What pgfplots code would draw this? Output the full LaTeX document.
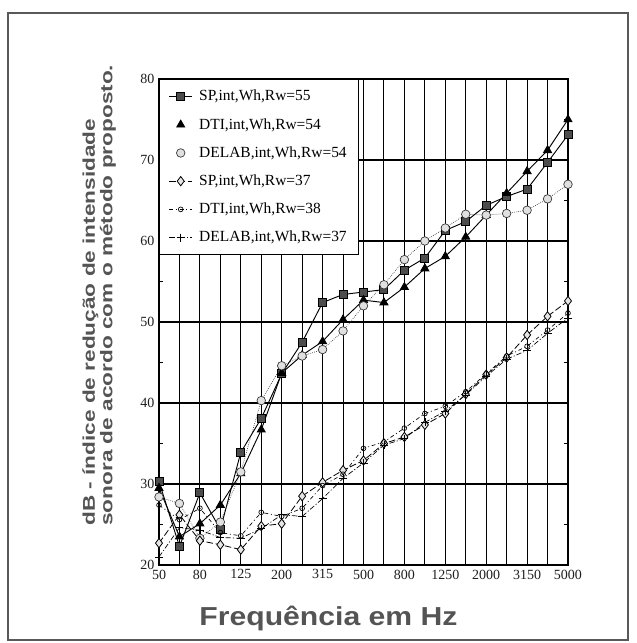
\documentclass[border=0pt]{standalone}
\usepackage{fontspec}
\setmainfont{Liberation Serif}
\newfontfamily\labelfont{Liberation Sans}
\usepackage{graphicx}
\usepackage{pgfplots}
\pgfplotsset{compat=1.18}
\usepackage{pgfplotstable}

\definecolor{scangray}{gray}{0.33}
\definecolor{inkgray}{gray}{0.12}

% bands 50 Hz ... 5000 Hz, plotted at 0..20
\pgfplotstableread{
i  sp55 dti54 delab54 sp37 dti38 delab37
0  30.3 29.5  28.4    22.7 27.4  21.0
1  22.3 23.5  27.6    26.2 25.6  24.6
2  28.9 25.1  23.3    23.0 27.0  24.3
3  24.4 27.4  25.3    22.5 24.0  23.4
4  33.9 31.3  31.5    21.9 23.6  23.3
5  38.1 36.7  40.3    24.8 26.5  24.5
6  43.6 43.7  44.6    25.1 26.0  26.2
7  47.5 45.9  45.8    28.5 27.0  26.0
8  52.4 47.6  46.6    30.2 29.8  28.2
9  53.4 50.3  48.9    31.7 31.2  30.7
10 53.7 52.7  52.0    32.9 34.4  32.6
11 54.0 52.4  54.6    35.0 35.2  34.8
12 56.4 54.3  57.7    35.8 36.9  35.6
13 57.9 56.6  60.0    37.3 38.7  37.6
14 61.3 58.1  61.6    38.7 39.6  39.0
15 62.4 60.5  63.3    41.1 41.4  41.0
16 64.4 63.2  63.2    43.5 43.6  43.3
17 65.5 65.9  63.4    45.6 45.8  45.4
18 66.4 68.6  63.8    48.4 47.0  46.5
19 69.7 71.2  65.2    50.7 49.0  48.6
20 73.1 75.0  67.0    52.6 51.1  50.5
}\rwdata

\begin{document}
\begin{tikzpicture}
\useasboundingbox (-119.25pt,-58.5pt) rectangle (357.75pt,423.75pt);
\draw[line width=1.4pt, black!65] (-113.25pt,-56.25pt) rectangle (351.75pt,414pt);
\begin{axis}[
    at={(0pt,0pt)}, anchor=south west,
    scale only axis,
    width=306.75pt, height=364.5pt,
    xmin=0, xmax=20, ymin=20, ymax=80,
    xtick={0,2,...,20},
    xticklabels={50,80,125,200,315,500,800,1250,2000,3150,5000},
    minor xtick={1,3,...,19},
    ytick={20,30,...,80},
    minor ytick={25,35,...,75},
    xmajorgrids=true, xminorgrids=true, ymajorgrids=true,
    grid style={black, line width=0.8pt},
    axis line style={black, line width=0.9pt},
    major tick length=0pt, minor tick length=3pt,
    tick style={black, line width=0.7pt},
    tick label style={font=\fontsize{10.5}{12}\selectfont, text=inkgray},
    /pgf/number format/assume math mode=true,
    legend cell align=left,
    legend style={at={(0,1)}, anchor=north west, draw=black, line width=0.8pt,
        fill=white, font=\fontsize{11.6}{13}\selectfont, row sep=7.6pt, column sep=3pt,
        inner xsep=7pt, inner ysep=6pt},
]
\addplot[black, line width=0.7pt, mark=square*, mark size=3pt,
    mark options={solid, fill=black!70}] table[x=i, y=sp55] {\rwdata};
\addlegendentry{SP,int,Wh,Rw=55}
\addplot[black, line width=0.7pt, mark=triangle*, mark size=3.4pt,
    mark options={solid, fill=black}, legend image post style={only marks}]
    table[x=i, y=dti54] {\rwdata};
\addlegendentry{DTI,int,Wh,Rw=54}
\addplot[black!80, line width=0.5pt, densely dotted, mark=*, mark size=3.2pt,
    mark options={solid, fill=black!12, draw=black!80}, legend image post style={only marks}]
    table[x=i, y=delab54] {\rwdata};
\addlegendentry{DELAB,int,Wh,Rw=54}
\addplot[black, line width=0.6pt, dash pattern=on 5pt off 2pt, mark=diamond*, mark size=3.5pt,
    mark options={solid, fill=black!10}] table[x=i, y=sp37] {\rwdata};
\addlegendentry{SP,int,Wh,Rw=37}
\addplot[black, line width=0.5pt, dash pattern=on 3pt off 2pt on 0.8pt off 2pt, mark=o, mark size=1.8pt,
    mark options={solid}] table[x=i, y=dti38] {\rwdata};
\addlegendentry{DTI,int,Wh,Rw=38}
\addplot[black, line width=0.5pt, dash pattern=on 4pt off 1.5pt on 0.8pt off 1.5pt, mark=+, mark size=3pt,
    mark options={solid}] table[x=i, y=delab37] {\rwdata};
\addlegendentry{DELAB,int,Wh,Rw=37}
\end{axis}
\node[rotate=90, anchor=west, inner sep=0pt, text=scangray] at (-44.25pt,29.25pt)
    {\scalebox{1.33}[1]{\labelfont\bfseries\fontsize{12.75}{12.75}\selectfont
    \begin{tabular}{@{}l@{}}dB - índice de redução de intensidade\\
    sonora de acordo com o método proposto.\end{tabular}}};
\node[anchor=base, inner sep=0pt, text=scangray] at (127.1pt,-45pt)
    {\scalebox{1.16}[1]{\labelfont\bfseries\fontsize{19.5}{22}\selectfont Frequência em Hz}};
\end{tikzpicture}
\end{document}
